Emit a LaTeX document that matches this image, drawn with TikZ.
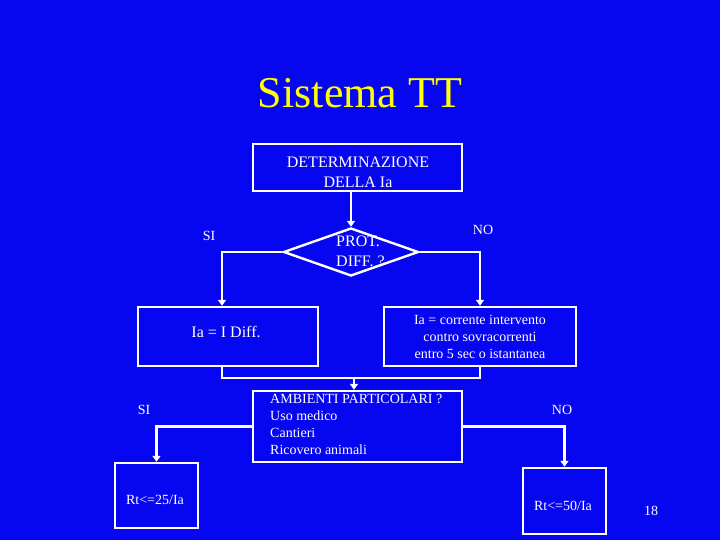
\documentclass[tikz,border=0pt]{standalone}
\usepackage{fontspec}
\setmainfont{Liberation Serif}
\usetikzlibrary{shapes.geometric,arrows.meta}
\definecolor{bgblue}{RGB}{6,6,240}
\definecolor{ttyellow}{RGB}{255,255,0}
\begin{document}
\begin{tikzpicture}[x=1pt,y=-1pt,
  box/.style={draw=white,line width=2.4pt,inner sep=0pt,text=white,align=center},
  tsixteen/.style={font=\fontsize{16}{20}\selectfont,text=white,align=center,inner sep=0pt},
  tfourteen/.style={font=\fontsize{14}{17}\selectfont,text=white,align=center,inner sep=0pt},
  conn/.style={draw=white,line width=2.2pt},
  arr/.style={conn,-{Triangle[width=8pt,length=6pt]}}]
\fill[bgblue] (0,0) rectangle (720,540);
\useasboundingbox (0,0) rectangle (720,540);

\node[font=\fontsize{44}{50}\selectfont,text=ttyellow] (title) at (360,93) {Sistema TT};

\node[box,minimum width=209pt,minimum height=47pt] (det) at (357.5,167.5) {};
\node[tsixteen] (dettxt) at (358,172) {DETERMINAZIONE\\DELLA Ia};
\node[box,shape=diamond,minimum width=135pt,minimum height=48pt] (dia) at (351,252) {};
\node[tsixteen,anchor=west,align=left] (diatxt) at (336,251.5) {PROT.\\DIFF. ?};

\node[box,minimum width=180pt,minimum height=59pt] (boxL) at (228,336.5) {};
\node[tsixteen] (boxLtxt) at (226,332) {Ia = I Diff.};
\node[box,tfourteen,minimum width=192pt,minimum height=59pt] (boxR) at (480,336.5) {Ia = corrente intervento\\contro sovracorrenti\\entro 5 sec o istantanea};

\node[box,minimum width=209pt,minimum height=71pt] (amb) at (357.5,426.5) {};
\node[tfourteen,anchor=west,align=left] (ambtxt) at (270,424) {AMBIENTI PARTICOLARI ?\\Uso medico\\Cantieri\\Ricovero animali};

\node[box,minimum width=83pt,minimum height=65pt] (rt25) at (156.5,495.5) {};
\node[tfourteen] (rt25txt) at (155,500) {Rt<=25/Ia};
\node[box,minimum width=83pt,minimum height=66pt] (rt50) at (564.5,501) {};
\node[tfourteen] (rt50txt) at (563,506) {Rt<=50/Ia};

\node[tfourteen] (si1) at (209,236) {SI};
\node[tfourteen] (no1) at (483,230) {NO};
\node[tfourteen] (si2) at (144,410) {SI};
\node[tfourteen] (no2) at (562,410) {NO};
\node[tfourteen] (pg) at (651,511) {18};

\draw[arr] (det.south -| dia.north) -- (dia.north);
\draw[arr] (dia.west) -| ([xshift=-6pt]boxL.north);
\draw[arr] (dia.east) -| (boxR.north);
\coordinate (m) at (354,378);
\draw[conn] ([xshift=-6pt]boxL.south) |- (m) -| (boxR.south);
\draw[arr] (m) -- (m |- amb.north);
\draw[arr] (amb.west) -| (rt25.north);
\draw[arr] (amb.east) -| (rt50.north);
\end{tikzpicture}
\end{document}
